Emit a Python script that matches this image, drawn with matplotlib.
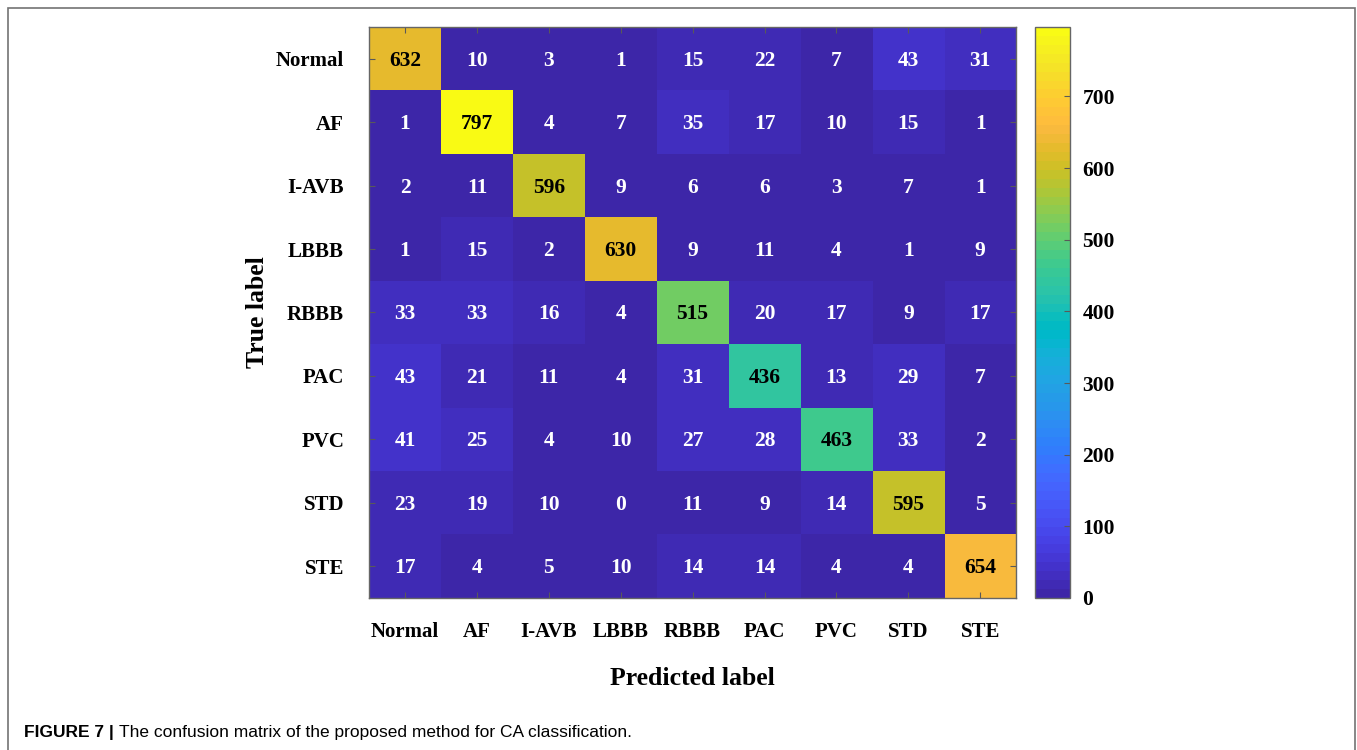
import numpy as np
import matplotlib
matplotlib.use("Agg")
import matplotlib.pyplot as plt
from matplotlib.colors import ListedColormap
from matplotlib.patches import Rectangle

# Classes and confusion matrix (rows = true, columns = predicted)
classes = ["Normal", "AF", "I-AVB", "LBBB", "RBBB", "PAC", "PVC", "STD", "STE"]
cm = np.array([
    [632, 10, 3, 1, 15, 22, 7, 43, 31],
    [1, 797, 4, 7, 35, 17, 10, 15, 1],
    [2, 11, 596, 9, 6, 6, 3, 7, 1],
    [1, 15, 2, 630, 9, 11, 4, 1, 9],
    [33, 33, 16, 4, 515, 20, 17, 9, 17],
    [43, 21, 11, 4, 31, 436, 13, 29, 7],
    [41, 25, 4, 10, 27, 28, 463, 33, 2],
    [23, 19, 10, 0, 11, 9, 14, 595, 5],
    [17, 4, 5, 10, 14, 14, 4, 4, 654],
])
cbar_ticks = [0, 100, 200, 300, 400, 500, 600, 700]

# parula (64 colours)
parula = ListedColormap([
    [0.2422, 0.1504, 0.6603], [0.2504, 0.1650, 0.7076], [0.2578, 0.1818, 0.7511],
    [0.2647, 0.1978, 0.7952], [0.2706, 0.2147, 0.8364], [0.2751, 0.2342, 0.8710],
    [0.2783, 0.2559, 0.8991], [0.2803, 0.2782, 0.9221], [0.2813, 0.3006, 0.9414],
    [0.2810, 0.3228, 0.9579], [0.2795, 0.3447, 0.9717], [0.2760, 0.3667, 0.9829],
    [0.2699, 0.3892, 0.9906], [0.2602, 0.4123, 0.9952], [0.2440, 0.4358, 0.9988],
    [0.2206, 0.4603, 0.9973], [0.1963, 0.4847, 0.9892], [0.1834, 0.5074, 0.9798],
    [0.1786, 0.5289, 0.9682], [0.1764, 0.5499, 0.9520], [0.1687, 0.5703, 0.9359],
    [0.1540, 0.5902, 0.9218], [0.1460, 0.6091, 0.9079], [0.1380, 0.6276, 0.8973],
    [0.1248, 0.6459, 0.8883], [0.1113, 0.6635, 0.8763], [0.0952, 0.6798, 0.8598],
    [0.0689, 0.6948, 0.8394], [0.0297, 0.7082, 0.8163], [0.0036, 0.7203, 0.7917],
    [0.0067, 0.7312, 0.7660], [0.0433, 0.7411, 0.7394], [0.0964, 0.7500, 0.7120],
    [0.1408, 0.7584, 0.6842], [0.1717, 0.7670, 0.6554], [0.1938, 0.7758, 0.6251],
    [0.2161, 0.7843, 0.5923], [0.2470, 0.7918, 0.5567], [0.2906, 0.7973, 0.5188],
    [0.3406, 0.8008, 0.4789], [0.3909, 0.8029, 0.4354], [0.4456, 0.8024, 0.3909],
    [0.5044, 0.7993, 0.3480], [0.5616, 0.7942, 0.3045], [0.6174, 0.7876, 0.2612],
    [0.6720, 0.7793, 0.2227], [0.7242, 0.7698, 0.1910], [0.7738, 0.7598, 0.1646],
    [0.8203, 0.7498, 0.1535], [0.8634, 0.7406, 0.1596], [0.9035, 0.7330, 0.1774],
    [0.9393, 0.7288, 0.2100], [0.9728, 0.7298, 0.2394], [0.9956, 0.7434, 0.2371],
    [0.9970, 0.7659, 0.2199], [0.9952, 0.7893, 0.2028], [0.9892, 0.8136, 0.1885],
    [0.9786, 0.8386, 0.1766], [0.9676, 0.8639, 0.1643], [0.9610, 0.8890, 0.1537],
    [0.9597, 0.9135, 0.1423], [0.9628, 0.9373, 0.1265], [0.9691, 0.9606, 0.1064],
    [0.9769, 0.9839, 0.0805],
])

plt.rcParams["font.family"] = ["Liberation Serif", "DejaVu Serif"]
plt.rcParams["font.weight"] = "bold"

fig = plt.figure(figsize=(13.57, 7.5), dpi=100)
ax = fig.add_axes([0.272, 0.2027, 0.4768, 0.7613])
cax = fig.add_axes([0.7627, 0.2027, 0.0258, 0.7613])

im = ax.imshow(cm, cmap=parula, vmin=0, vmax=cm.max(), aspect="auto",
               interpolation="nearest")

# numbers in the cells: black on the diagonal, white elsewhere
n = len(classes)
for i in range(n):
    for j in range(n):
        ax.text(j, i + 0.03, str(cm[i, j]), ha="center", va="center",
                fontsize=15.5, fontweight="bold",
                color="black" if i == j else "white")

ax.set_xticks(range(n))
ax.set_yticks(range(n))
ax.set_xticklabels(classes, fontsize=15, fontweight="bold")
ax.set_yticklabels(classes, fontsize=15, fontweight="bold")
ax.tick_params(direction="in", top=True, right=True, length=4, width=0.8,
               color="0.35")
ax.tick_params(axis="x", pad=17)
ax.tick_params(axis="y", pad=18)
for s in ax.spines.values():
    s.set_color("0.4")
    s.set_linewidth(1.0)

ax.set_xlabel("Predicted label", fontsize=18.5, fontweight="bold", labelpad=18)
ax.set_ylabel("True label", fontsize=18.5, fontweight="bold", labelpad=5)

cb = fig.colorbar(im, cax=cax, ticks=cbar_ticks)
cb.ax.tick_params(direction="in", length=4, width=0.8, color="0.35",
                  labelsize=15.5, pad=9)
for lab in cb.ax.get_yticklabels():
    lab.set_fontweight("bold")
cb.outline.set_edgecolor("0.4")
cb.outline.set_linewidth(1.0)

# outer frame and figure caption
fig.patches.append(Rectangle((8 / 1357, -0.05), 1347 / 1357, 1.05 - 8 / 750,
                             transform=fig.transFigure, fill=False,
                             edgecolor="0.45", linewidth=1.2))
cap_y = 1 - 733 / 750
head = fig.text(24 / 1357, cap_y, "FIGURE 7 |", family="Liberation Sans",
                fontweight="bold", fontsize=12.5, va="center", ha="left")
fig.canvas.draw()
head_right = head.get_window_extent().x1 / fig.bbox.width
fig.text(head_right + 5 / 1357, cap_y,
         "The confusion matrix of the proposed method for CA classification.",
         family="Liberation Sans", fontweight="normal", fontsize=12.5,
         va="center", ha="left")

fig.savefig("out.png", dpi=100)
